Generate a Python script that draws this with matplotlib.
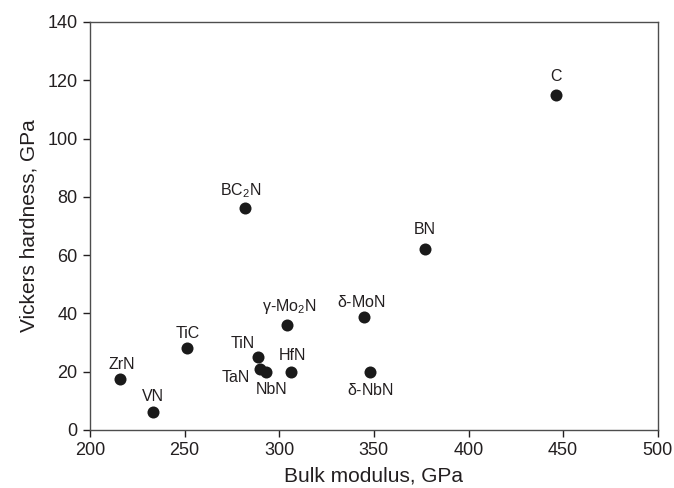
import matplotlib
matplotlib.use('Agg')
import matplotlib.pyplot as plt

plt.rcParams['font.family'] = ['Liberation Sans', 'DejaVu Sans']
plt.rcParams['mathtext.fontset'] = 'custom'
plt.rcParams['mathtext.rm'] = 'Liberation Sans'
plt.rcParams['mathtext.it'] = 'Liberation Sans'

# Dados (módulo volumétrico x dureza Vickers)
names = ['C', 'BN', r'$\delta$-MoN', r'$\delta$-NbN', r'BC$_2$N', r'$\gamma$-Mo$_2$N',
         'TiN', 'TaN', 'NbN', 'HfN', 'TiC', 'ZrN', 'VN']
bulk = [446, 377, 345, 348, 282, 304, 288.6, 289.6, 292.8, 306, 251, 216, 233.5]
hardness = [115, 62, 38.7, 20, 76, 36, 25, 21, 20, 19.8, 28, 17.6, 6.2]

# deslocamento dos rótulos (pontos) e alinhamento horizontal
offsets = [(0, 13), (0, 14), (-2, 11), (0, -13), (-3, 13), (2, 13),
           (-11, 10), (-7, -6), (4, -13), (1, 12), (1, 11), (1, 10), (0, 11)]
aligns = ['center'] * 7 + ['right'] + ['center'] * 5

dark = '#231f20'

fig, ax = plt.subplots(figsize=(6.74, 4.88), dpi=100)
fig.subplots_adjust(left=0.1335, right=0.976, bottom=0.119, top=0.955)

ax.scatter(bulk, hardness, s=75, color='#1a1a1a', zorder=3, linewidths=0)

for name, x, y, off, ha in zip(names, bulk, hardness, offsets, aligns):
    ax.annotate(name, (x, y), xytext=off, textcoords='offset points',
                ha=ha, va='center', fontsize=11.5, color=dark)

ax.set_xlim(200, 500)
ax.set_ylim(0, 140)
ax.set_xticks(range(200, 501, 50))
ax.set_yticks(range(0, 141, 20))

ax.set_xlabel('Bulk modulus, GPa', fontsize=15, color=dark, labelpad=5)
ax.set_ylabel('Vickers hardness, GPa', fontsize=15, color=dark, labelpad=6)
ax.tick_params(axis='both', direction='out', length=5, width=1, labelsize=13,
               colors=dark, pad=4)

for side in ['top', 'right', 'left', 'bottom']:
    ax.spines[side].set_color('#4d4d4d')
    ax.spines[side].set_linewidth(1)

plt.savefig('out.png', dpi=100)
